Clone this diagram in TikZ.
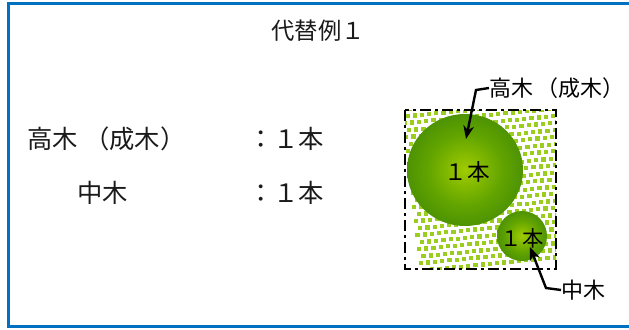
\documentclass[tikz,border=0pt]{standalone}
\usepackage{fontspec}
\setmainfont{Noto Sans CJK JP}
\usetikzlibrary{arrows.meta}
\definecolor{frameblue}{HTML}{0070C0}
\definecolor{dotgreen}{HTML}{9ACD1E}
\definecolor{treelight}{HTML}{A0CC00}
\definecolor{treemid}{HTML}{62A400}
\definecolor{treedark}{HTML}{1E6C0A}
\definecolor{inkgray}{HTML}{1A1A1A}
\pgfdeclareradialshading{treeball}{\pgfpoint{0bp}{0bp}}{%
  color(0bp)=(treelight); color(16bp)=(treemid);
  color(46bp)=(treedark); color(70bp)=(treedark)}
\tikzset{
  listtext/.style={font=\fontsize{19pt}{22pt}\selectfont, text=inkgray, inner sep=0pt},
  calltext/.style={font=\fontsize{16.5pt}{20pt}\selectfont, text=black, inner sep=0pt},
  titletext/.style={font=\fontsize{17.5pt}{20pt}\selectfont, text=inkgray, inner sep=0pt},
  treecount/.style={font=\fontsize{17pt}{19pt}\selectfont, text=black, inner sep=0pt},
  crown/.style={shading=treeball},
  pointer/.style={draw=black, line width=1.8pt, -{Stealth[length=10pt,width=8pt]}},
  plotedge/.style={draw=black, line width=1.8pt, dash pattern=on 8pt off 3pt on 2.5pt off 3pt},
  frameline/.style={draw=frameblue, line width=2.4pt}
}
\begin{document}
\begin{tikzpicture}[x=0.75pt, y=-0.75pt]
\useasboundingbox (0,0) rectangle (629,329);

% blue frame (open on the right)
\draw[frameline] (629,3.5) -- (8.5,3.5) -- (8.5,326.8) -- (629,326.8);

% heading and planting list
\node[titletext] (title) at (318,31) {代替例１};
\node[listtext, anchor=west] (tallname) at (27,139) {高木\hspace{0.25em}（成木）};
\node[listtext, anchor=west] (tallcount) at (248,139) {：１本};
\node[listtext, anchor=west] (midname) at (77,193) {中木};
\node[listtext, anchor=west] (midcount) at (248,193) {：１本};

% planting plot: dotted ground cover
\begin{scope}
  \clip (405,110) rectangle (556,269);
  \foreach \r in {0,...,23} {
    \foreach \c in {0,...,22} {
      \pgfmathsetmacro{\px}{401 + 7.2*\c + 3.6*mod(\r,2) + 0.8*\r}
      \pgfmathsetmacro{\py}{107 + 7.0*\r - 0.7*\c}
      \fill[dotgreen] (\px,\py) rectangle ++(4.2,4.2);
    }
  }
\end{scope}
\draw[plotedge] (405,110) rectangle (556,269);

% tree crowns
\shade[crown] (465,170) ellipse [x radius=58, y radius=56];
\shade[crown] (522,236) circle [radius=25];
\node[treecount] (bigcount) at (467,172) {１本};
\node[treecount, font=\fontsize{16pt}{18pt}\selectfont] (smallcount) at (522,238) {１本};

% callouts
\node[calltext, anchor=west] (talllabel) at (489,88) {高木\hspace{0.15em}（成木）};
\node[calltext, anchor=west] (midlabel) at (561,290) {中木};
\coordinate (tallbend) at (476,90);
\coordinate (talltip) at (466,139);
\coordinate (midbend) at (546,288);
\coordinate (midtip) at (530,247);
\draw[pointer] (talllabel.west) -- (tallbend) -- (talltip);
\draw[pointer] (midlabel.west) -- (midbend) -- (midtip);
\end{tikzpicture}
\end{document}
